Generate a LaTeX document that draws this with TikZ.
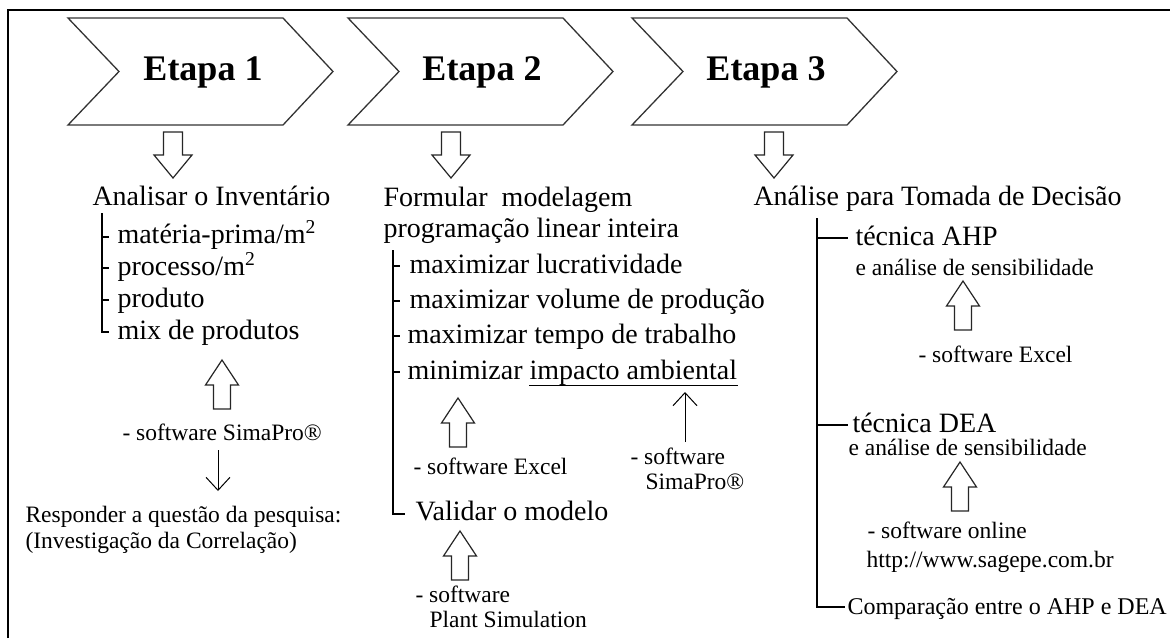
\documentclass[tikz,border=0pt]{standalone}
\usepackage{fontspec}
\setmainfont{Liberation Serif}
\usetikzlibrary{arrows.meta,calc}
\begin{document}
\begin{tikzpicture}[x=1pt,y=-1pt,line width=1pt,
  txt/.style={inner sep=0pt,anchor=base west,font=\fontsize{28}{32}\selectfont},
  sm/.style={inner sep=0pt,anchor=base west,font=\fontsize{23.5}{26}\selectfont},
  md/.style={inner sep=0pt,anchor=base west,font=\fontsize{24}{27}\selectfont},
  etapa/.style={inner sep=0pt,anchor=base,font=\fontsize{36}{40}\selectfont\bfseries},
  chev/.style={draw=black!80,line width=1.3pt,fill=white},
  blk/.style={draw=black!85,line width=1.2pt,fill=white},
  thinarrow/.style={line width=1pt,-{Straight Barb[length=13pt,width=24pt]}},
  brk/.style={line width=1.2pt},
  downblk/.pic={\draw[blk] (-9.5,0) -- (-9.5,23) -- (-19,23) -- (0,46) -- (19,23) -- (9.5,23) -- (9.5,0) -- cycle;},
  upblk/.pic={\draw[blk] (-8.5,0) -- (-8.5,-24) -- (-16.5,-24) -- (0,-49) -- (16.5,-24) -- (8.5,-24) -- (8.5,0) -- cycle;}
  ]
\useasboundingbox (0,0) rectangle (1170,638);
\fill[white] (0,0) rectangle (1170,638);
% frame
\draw[line width=1.2pt] (8,638) -- (8,10) -- (1170,10);

% chevrons
\foreach \x/\n in {68/1,348/2,632/3}{
  \draw[chev] (\x,18) -- ++(215,0) -- ++(50,53.5) -- ++(-50,53.5) -- ++(-215,0) -- ++(51,-53.5) -- cycle;
}
\node[etapa] (e1) at (203,80) {Etapa 1};
\node[etapa] (e2) at (482,80) {Etapa 2};
\node[etapa] (e3) at (766,80) {Etapa 3};

\pic at (173,132) {downblk};
\pic at (451,132) {downblk};
\pic at (774,132) {downblk};

% ---------- column 1
\node[txt] (a0) at (92,205) {Analisar o Inventário};
\node[txt] (a1) at (117,243) {matéria-prima/m\textsuperscript{2}};
\node[txt] (a2) at (117,275) {processo/m\textsuperscript{2}};
\node[txt] (a3) at (117,307) {produto};
\node[txt] (a4) at (117,339) {mix de produtos};
\draw[brk] (102,213) -- (102,332) -- (109,332);
\foreach \y in {237,268,300}{\draw[brk] (102,\y) -- (109,\y);}
\pic at (222,409) {upblk};
\node[sm] (s1) at (122,440) {- software SimaPro®};
\node[sm] (q1) at (25,522) {Responder a questão da pesquisa:};
\node[sm] (q2) at (25,548) {(Investigação da Correlação)};
\coordinate (d1) at (218,450);
\coordinate (d2) at (218,491);
\draw[thinarrow] (d1) -- (d2);

% ---------- column 2
\node[txt] (b0) at (383,206) {Formular\ \ modelagem};
\node[txt] (b0b) at (383,237) {programação linear inteira};
\node[txt] (b1) at (409,273) {maximizar lucratividade};
\node[txt] (b2) at (409,308) {maximizar volume de produção};
\node[txt] (b3) at (407,343) {maximizar tempo de trabalho};
\node[txt] (b4) at (407,379) {minimizar};
\node[txt] (imp) at (529,379) {impacto ambiental};
\draw[line width=1pt] ([yshift=-0.5pt]imp.south west) -- ([yshift=-0.5pt]imp.south east);
\node[txt] (b5) at (415,520) {Validar o modelo};
\draw[brk] (393,250) -- (393,514) -- (405,514);
\foreach \y in {266,301,336,372}{\draw[brk] (393,\y) -- (400,\y);}
\pic at (458,447) {upblk};
\node[sm] (s2) at (413,474) {- software Excel};
\node[sm] (s3a) at (630,464) {- software};
\node[sm] (s3b) at (645,489) {SimaPro®};
\coordinate (u2) at (685,442);
\coordinate (u3) at (685,392);
\draw[thinarrow] (u2) -- (u3);
\pic at (460,580) {upblk};
\node[sm] (s4a) at (415,602) {- software};
\node[sm] (s4b) at (429,627) {Plant Simulation};

% ---------- column 3
\node[txt] (c0) at (753,205) {Análise para Tomada de Decisão};
\node[txt] (c1) at (855,245) {técnica AHP};
\node[sm] (c1b) at (855,275) {e análise de sensibilidade};
\node[txt] (c2) at (852,432) {técnica DEA};
\node[sm] (c2b) at (848,455) {e análise de sensibilidade};
\node[md] (c3) at (847,614) {Comparação entre o AHP e DEA};
\draw[brk] (817,218) -- (817,607) -- (845,607);
\draw[brk] (817,238) -- (848,238);
\draw[brk] (817,425) -- (848,425);
\pic at (963,330) {upblk};
\node[sm] (s5) at (918,362) {- software Excel};
\pic at (960,511) {upblk};
\node[sm] (s6a) at (867,538) {- software online};
\node[sm] (s6b) at (866,567) {http://www.sagepe.com.br};
\end{tikzpicture}
\end{document}
